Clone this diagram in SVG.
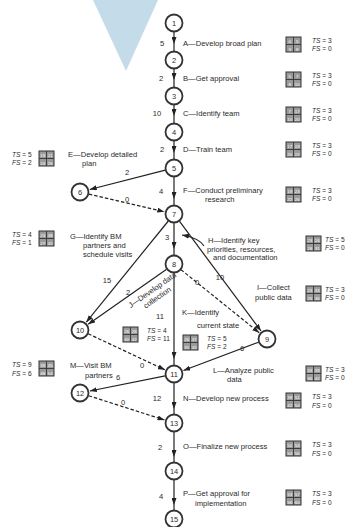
<svg xmlns="http://www.w3.org/2000/svg" width="349" height="527" viewBox="0 0 349 527">
  <defs>
    <marker id="arrow" viewBox="0 0 7 5" refX="7" refY="2.5" markerWidth="7" markerHeight="5" markerUnits="userSpaceOnUse" orient="auto">
      <path d="M0,0 L7,2.5 L0,5 z" fill="#222"/>
    </marker>
    <!-- time box: ES | EF over LS | LF -->
    <g id="tbox">
      <rect x="0" y="0" width="15" height="15" fill="#9a9a9a" stroke="#333" stroke-width="1"/>
      <line x1="7.5" y1="0" x2="7.5" y2="15" stroke="#333" stroke-width="0.9"/>
      <line x1="0" y1="7.5" x2="15" y2="7.5" stroke="#333" stroke-width="0.9"/>
    </g>
  </defs>
  <style>
    text { font-family: "Liberation Sans", Arial, sans-serif; fill: #2a2a2a; }
    .lbl { font-size: 7.6px; }
    .dur { font-size: 7.6px; text-anchor: middle; }
    .num { font-size: 7.4px; text-anchor: middle; }
    .sl { font-size: 6.6px; }
    .sl tspan.v { font-style: italic; }
    .bn { font-size: 4.4px; text-anchor: middle; fill: #fff; }
    .node circle { fill: #fff; stroke: #333; stroke-width: 1.8; }
    .edge { fill: none; stroke: #222; stroke-width: 1.2; }
    .dummy { stroke-dasharray: 3.5 2; }
  </style>

  <!-- pointer wedge -->
  <polygon points="93,0 158,0 126,71" fill="#c4dbe9"/>

  <!-- connectors -->
  <g id="connectors">
    <path class="edge" d="M174,32 L174,44 L174,51" marker-mid="url(#arrow)"/>
    <path class="edge" d="M174,69 L174,80 L174,87" marker-mid="url(#arrow)"/>
    <path class="edge" d="M174,105 L174,116 L174,123" marker-mid="url(#arrow)"/>
    <path class="edge" d="M174,141 L174,153 L174,159" marker-mid="url(#arrow)"/>
    <path class="edge" d="M174,177 L174,199 L174,205" marker-mid="url(#arrow)"/>
    <path class="edge" d="M174,223 L174,249 L174,255" marker-mid="url(#arrow)"/>
    <path class="edge" d="M174,273 L174,359 L174,365" marker-mid="url(#arrow)"/>
    <path class="edge" d="M174,383 L174,409 L174,414" marker-mid="url(#arrow)"/>
    <path class="edge" d="M174,432 L174,457 L174,462" marker-mid="url(#arrow)"/>
    <path class="edge" d="M174,480 L174,505 L174,510" marker-mid="url(#arrow)"/>
    <path class="edge" d="M165.3,170.2 L89.7,189.5" marker-end="url(#arrow)"/>
    <path class="edge dummy" d="M88.8,194.1 L164.3,211.7" marker-end="url(#arrow)"/>
    <path class="edge" d="M168.3,221 L86.3,322.2" marker-end="url(#arrow)"/>
    <path class="edge" d="M179.4,221.2 L261,331" marker-end="url(#arrow)"/>
    <path class="edge" d="M166.6,269.2 L88.2,324.3" marker-end="url(#arrow)"/>
    <path class="edge dummy" d="M181,269.7 L259.2,332.7" marker-end="url(#arrow)"/>
    <path class="edge" d="M258.6,342.2 L183.4,370.5" marker-end="url(#arrow)"/>
    <path class="edge dummy" d="M88.2,333.8 L164.9,369.8" marker-end="url(#arrow)"/>
    <path class="edge" d="M165.2,375.8 L89.8,391" marker-end="url(#arrow)"/>
    <path class="edge dummy" d="M88.6,395.7 L164.5,420" marker-end="url(#arrow)"/>
    <!-- leader from activity H to its arrow -->
    <path class="edge" d="M204,246 Q199,238 182,235" stroke-width="1" marker-end="url(#arrow)"/>
  </g>

  <!-- events -->
  <g id="n1" class="node"><circle cx="174" cy="23" r="8.5"/><text class="num" x="174" y="25.8">1</text></g>
  <g id="n2" class="node"><circle cx="174" cy="60" r="8.5"/><text class="num" x="174" y="62.8">2</text></g>
  <g id="n3" class="node"><circle cx="174" cy="96" r="8.5"/><text class="num" x="174" y="98.8">3</text></g>
  <g id="n4" class="node"><circle cx="174" cy="132" r="8.5"/><text class="num" x="174" y="134.8">4</text></g>
  <g id="n5" class="node"><circle cx="174" cy="168" r="8.5"/><text class="num" x="174" y="170.8">5</text></g>
  <g id="n6" class="node"><circle cx="80" cy="192" r="8.5"/><text class="num" x="80" y="194.8">6</text></g>
  <g id="n7" class="node"><circle cx="174" cy="214" r="8.5"/><text class="num" x="174" y="216.8">7</text></g>
  <g id="n8" class="node"><circle cx="174" cy="264" r="8.5"/><text class="num" x="174" y="266.8">8</text></g>
  <g id="n9" class="node"><circle cx="267" cy="339" r="8.5"/><text class="num" x="267" y="341.8">9</text></g>
  <g id="n10" class="node"><circle cx="80" cy="330" r="8.5"/><text class="num" x="80" y="332.8">10</text></g>
  <g id="n11" class="node"><circle cx="174" cy="374" r="8.5"/><text class="num" x="174" y="376.8">11</text></g>
  <g id="n12" class="node"><circle cx="80" cy="393" r="8.5"/><text class="num" x="80" y="395.8">12</text></g>
  <g id="n13" class="node"><circle cx="174" cy="423" r="8.5"/><text class="num" x="174" y="425.8">13</text></g>
  <g id="n14" class="node"><circle cx="174" cy="471" r="8.5"/><text class="num" x="174" y="473.8">14</text></g>
  <g id="n15" class="node"><circle cx="174" cy="519" r="8.5"/><text class="num" x="174" y="521.8">15</text></g>

  <!-- durations -->
  <g id="durations">
    <text class="dur" x="162" y="46">5</text>
    <text class="dur" x="161" y="81">2</text>
    <text class="dur" x="157" y="116">10</text>
    <text class="dur" x="162" y="152">2</text>
    <text class="dur" x="127" y="175">2</text>
    <text class="dur" x="127" y="202">0</text>
    <text class="dur" x="161" y="194">4</text>
    <text class="dur" x="167" y="240">3</text>
    <text class="dur" x="107" y="283">15</text>
    <text class="dur" x="128" y="295">2</text>
    <text class="dur" x="160" y="319">11</text>
    <text class="dur" x="197" y="285">0</text>
    <text class="dur" x="220" y="280">10</text>
    <text class="dur" x="242" y="351">6</text>
    <text class="dur" x="142" y="368">0</text>
    <text class="dur" x="118" y="380">6</text>
    <text class="dur" x="123" y="405">0</text>
    <text class="dur" x="157" y="401">12</text>
    <text class="dur" x="160" y="450">2</text>
    <text class="dur" x="161" y="499">4</text>
  </g>

  <!-- activities with their time boxes and slacks -->
  <g id="actA">
    <text class="lbl" x="183" y="46">A—Develop broad plan</text>
    <use href="#tbox" x="286" y="37"/>
    <text class="bn" x="289.8" y="43">0</text><text class="bn" x="297.3" y="43">5</text>
    <text class="bn" x="289.8" y="50.5">3</text><text class="bn" x="297.3" y="50.5">8</text>
    <text class="sl" x="312" y="43"><tspan class="v">TS</tspan> = 3</text>
    <text class="sl" x="312" y="51"><tspan class="v">FS</tspan> = 0</text>
  </g>
  <g id="actB">
    <text class="lbl" x="183" y="81">B—Get approval</text>
    <use href="#tbox" x="286" y="72"/>
    <text class="bn" x="289.8" y="78">5</text><text class="bn" x="297.3" y="78">7</text>
    <text class="bn" x="289.8" y="85.5">8</text><text class="bn" x="297.3" y="85.5">10</text>
    <text class="sl" x="312" y="78"><tspan class="v">TS</tspan> = 3</text>
    <text class="sl" x="312" y="86"><tspan class="v">FS</tspan> = 0</text>
  </g>
  <g id="actC">
    <text class="lbl" x="183" y="116">C—Identify team</text>
    <use href="#tbox" x="286" y="107"/>
    <text class="bn" x="289.8" y="113">7</text><text class="bn" x="297.3" y="113">17</text>
    <text class="bn" x="289.8" y="120.5">10</text><text class="bn" x="297.3" y="120.5">20</text>
    <text class="sl" x="312" y="113"><tspan class="v">TS</tspan> = 3</text>
    <text class="sl" x="312" y="121"><tspan class="v">FS</tspan> = 0</text>
  </g>
  <g id="actD">
    <text class="lbl" x="183" y="152">D—Train team</text>
    <use href="#tbox" x="286" y="142"/>
    <text class="bn" x="289.8" y="148">17</text><text class="bn" x="297.3" y="148">19</text>
    <text class="bn" x="289.8" y="155.5">20</text><text class="bn" x="297.3" y="155.5">22</text>
    <text class="sl" x="312" y="148"><tspan class="v">TS</tspan> = 3</text>
    <text class="sl" x="312" y="156"><tspan class="v">FS</tspan> = 0</text>
  </g>
  <g id="actE">
    <text class="lbl" x="68" y="157">E—Develop detailed</text>
    <text class="lbl" x="82" y="166">plan</text>
    <use href="#tbox" x="39" y="151"/>
    <text class="bn" x="42.8" y="157">19</text><text class="bn" x="50.3" y="157">21</text>
    <text class="bn" x="42.8" y="164.5">24</text><text class="bn" x="50.3" y="164.5">26</text>
    <text class="sl" x="12" y="157"><tspan class="v">TS</tspan> = 5</text>
    <text class="sl" x="12" y="165"><tspan class="v">FS</tspan> = 2</text>
  </g>
  <g id="actF">
    <text class="lbl" x="183" y="193">F—Conduct preliminary</text>
    <text class="lbl" x="205" y="202">research</text>
    <use href="#tbox" x="286" y="187"/>
    <text class="bn" x="289.8" y="193">19</text><text class="bn" x="297.3" y="193">23</text>
    <text class="bn" x="289.8" y="200.5">22</text><text class="bn" x="297.3" y="200.5">26</text>
    <text class="sl" x="312" y="193"><tspan class="v">TS</tspan> = 3</text>
    <text class="sl" x="312" y="201"><tspan class="v">FS</tspan> = 0</text>
  </g>
  <g id="actG">
    <text class="lbl" x="70" y="239">G—Identify BM</text>
    <text class="lbl" x="83" y="248">partners and</text>
    <text class="lbl" x="83" y="257">schedule visits</text>
    <use href="#tbox" x="39" y="231"/>
    <text class="bn" x="42.8" y="237">23</text><text class="bn" x="50.3" y="237">38</text>
    <text class="bn" x="42.8" y="244.5">27</text><text class="bn" x="50.3" y="244.5">42</text>
    <text class="sl" x="12" y="237"><tspan class="v">TS</tspan> = 4</text>
    <text class="sl" x="12" y="245"><tspan class="v">FS</tspan> = 1</text>
  </g>
  <g id="actH">
    <text class="lbl" x="208" y="243">H—Identify key</text>
    <text class="lbl" x="207" y="252">priorities, resources,</text>
    <text class="lbl" x="213" y="260">and documentation</text>
    <use href="#tbox" x="306" y="236"/>
    <text class="bn" x="309.8" y="242">23</text><text class="bn" x="317.3" y="242">26</text>
    <text class="bn" x="309.8" y="249.5">28</text><text class="bn" x="317.3" y="249.5">31</text>
    <text class="sl" x="325" y="242"><tspan class="v">TS</tspan> = 5</text>
    <text class="sl" x="325" y="250"><tspan class="v">FS</tspan> = 0</text>
  </g>
  <g id="actI">
    <text class="lbl" x="257" y="290">I—Collect</text>
    <text class="lbl" x="255" y="300">public data</text>
    <use href="#tbox" x="306" y="286"/>
    <text class="bn" x="309.8" y="292">23</text><text class="bn" x="317.3" y="292">33</text>
    <text class="bn" x="309.8" y="299.5">26</text><text class="bn" x="317.3" y="299.5">36</text>
    <text class="sl" x="325" y="292"><tspan class="v">TS</tspan> = 3</text>
    <text class="sl" x="325" y="300"><tspan class="v">FS</tspan> = 0</text>
  </g>
  <g id="actJ">
    <g transform="translate(134,306) rotate(-35)">
      <text class="lbl" x="-4" y="0">J—Develop data</text>
      <text class="lbl" x="8" y="9">collection</text>
    </g>
    <use href="#tbox" x="123" y="327"/>
    <text class="bn" x="126.8" y="333">26</text><text class="bn" x="134.3" y="333">28</text>
    <text class="bn" x="126.8" y="340.5">40</text><text class="bn" x="134.3" y="340.5">42</text>
    <text class="sl" x="147" y="333"><tspan class="v">TS</tspan> = 4</text>
    <text class="sl" x="147" y="341"><tspan class="v">FS</tspan> = 11</text>
  </g>
  <g id="actK">
    <text class="lbl" x="182" y="315">K—Identify</text>
    <text class="lbl" x="197" y="328">current state</text>
    <use href="#tbox" x="183" y="335"/>
    <text class="bn" x="186.8" y="341">26</text><text class="bn" x="194.3" y="341">37</text>
    <text class="bn" x="186.8" y="348.5">31</text><text class="bn" x="194.3" y="348.5">42</text>
    <text class="sl" x="207" y="341"><tspan class="v">TS</tspan> = 5</text>
    <text class="sl" x="207" y="349"><tspan class="v">FS</tspan> = 2</text>
  </g>
  <g id="actL">
    <text class="lbl" x="213" y="373">L—Analyze public</text>
    <text class="lbl" x="227" y="382">data</text>
    <use href="#tbox" x="306" y="366"/>
    <text class="bn" x="309.8" y="372">33</text><text class="bn" x="317.3" y="372">39</text>
    <text class="bn" x="309.8" y="379.5">36</text><text class="bn" x="317.3" y="379.5">42</text>
    <text class="sl" x="325" y="372"><tspan class="v">TS</tspan> = 3</text>
    <text class="sl" x="325" y="380"><tspan class="v">FS</tspan> = 0</text>
  </g>
  <g id="actM">
    <text class="lbl" x="70" y="368">M—Visit BM</text>
    <text class="lbl" x="85" y="378">partners</text>
    <use href="#tbox" x="39" y="361"/>
    <text class="bn" x="42.8" y="367">39</text><text class="bn" x="50.3" y="367">45</text>
    <text class="bn" x="42.8" y="374.5">48</text><text class="bn" x="50.3" y="374.5">54</text>
    <text class="sl" x="12" y="367"><tspan class="v">TS</tspan> = 9</text>
    <text class="sl" x="12" y="376"><tspan class="v">FS</tspan> = 6</text>
  </g>
  <g id="actN">
    <text class="lbl" x="183" y="401">N—Develop new process</text>
    <use href="#tbox" x="286" y="393"/>
    <text class="bn" x="289.8" y="399">39</text><text class="bn" x="297.3" y="399">51</text>
    <text class="bn" x="289.8" y="406.5">42</text><text class="bn" x="297.3" y="406.5">54</text>
    <text class="sl" x="312" y="399"><tspan class="v">TS</tspan> = 3</text>
    <text class="sl" x="312" y="408"><tspan class="v">FS</tspan> = 0</text>
  </g>
  <g id="actO">
    <text class="lbl" x="183" y="449">O—Finalize new process</text>
    <use href="#tbox" x="286" y="441"/>
    <text class="bn" x="289.8" y="447">51</text><text class="bn" x="297.3" y="447">53</text>
    <text class="bn" x="289.8" y="454.5">54</text><text class="bn" x="297.3" y="454.5">56</text>
    <text class="sl" x="312" y="447"><tspan class="v">TS</tspan> = 3</text>
    <text class="sl" x="312" y="456"><tspan class="v">FS</tspan> = 0</text>
  </g>
  <g id="actP">
    <text class="lbl" x="183" y="496">P—Get approval for</text>
    <text class="lbl" x="195" y="506">implementation</text>
    <use href="#tbox" x="286" y="490"/>
    <text class="bn" x="289.8" y="496">53</text><text class="bn" x="297.3" y="496">57</text>
    <text class="bn" x="289.8" y="503.5">56</text><text class="bn" x="297.3" y="503.5">60</text>
    <text class="sl" x="312" y="496"><tspan class="v">TS</tspan> = 3</text>
    <text class="sl" x="312" y="505"><tspan class="v">FS</tspan> = 0</text>
  </g>
</svg>
